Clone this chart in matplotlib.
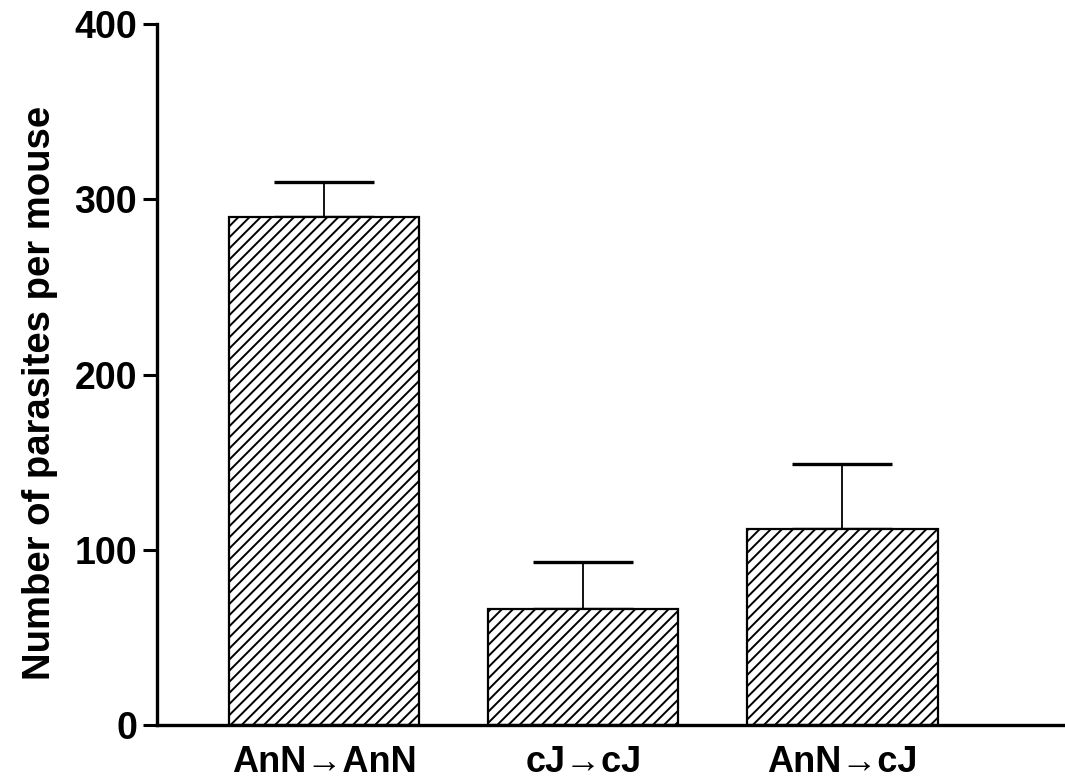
import matplotlib.pyplot as plt
import numpy as np

plt.rcParams['font.family'] = ['Liberation Sans', 'DejaVu Sans']
plt.rcParams['font.weight'] = 'bold'
plt.rcParams['hatch.linewidth'] = 1.4

# data
groups = ['AnN\u2192AnN', 'cJ\u2192cJ', 'AnN\u2192cJ']
means = [290, 66, 112]
sem = [20, 27, 37]

fig = plt.figure(figsize=(10.65, 7.83), dpi=100)
ax = fig.add_axes([0.147, 0.074, 0.853, 0.895])

x = np.arange(len(groups))
ax.bar(x, means, width=0.734, color='white', edgecolor='black',
       linewidth=1.6, hatch='///', zorder=2)
ax.errorbar(x, means, yerr=[np.zeros(len(sem)), sem], fmt='none',
            ecolor='black', elinewidth=1.3, capsize=36, capthick=2.4, zorder=1)

ax.set_xlim(-0.647, 2.859)
ax.set_ylim(0, 400)
ax.set_yticks([0, 100, 200, 300, 400])
ax.set_xticks(x)
ax.set_xticklabels(groups, fontsize=26, fontweight='bold')
ax.tick_params(axis='x', length=0, pad=14)
ax.tick_params(axis='y', length=10, width=2.2, labelsize=27, pad=4)
for lbl in ax.get_yticklabels():
    lbl.set_fontweight('bold')

ax.set_ylabel('Number of parasites per mouse', fontsize=27.5, fontweight='bold')
ax.yaxis.set_label_coords(-0.109, 0.474)

ax.spines['top'].set_visible(False)
ax.spines['right'].set_visible(False)
ax.spines['left'].set_linewidth(2.4)
ax.spines['bottom'].set_linewidth(2.4)

fig.savefig('out.png', dpi=100)
